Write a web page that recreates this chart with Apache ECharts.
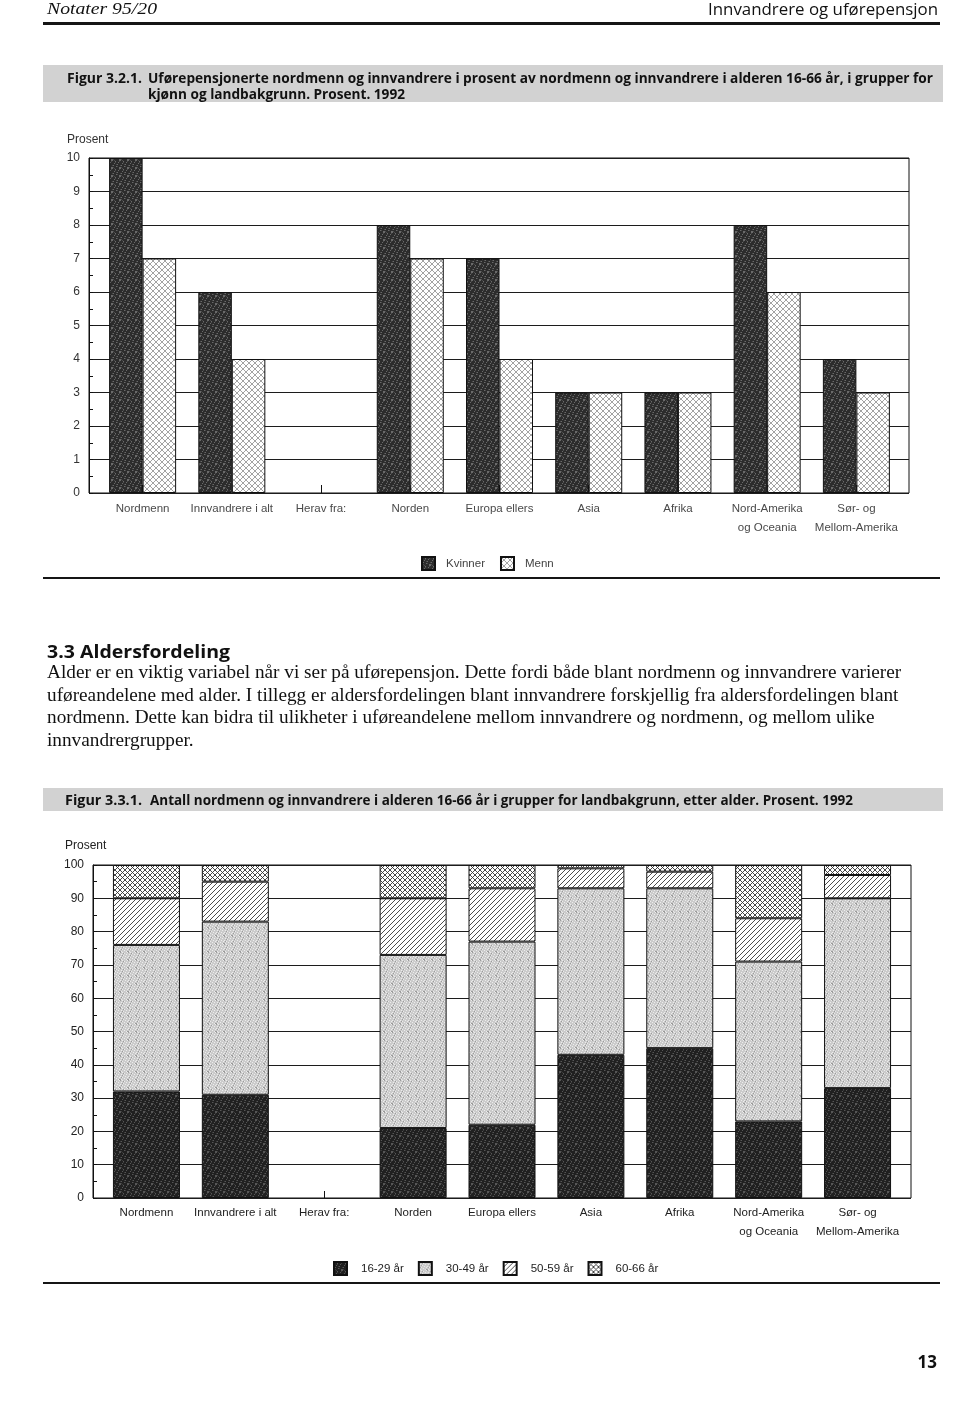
<!DOCTYPE html>
<html><head><meta charset="utf-8">
<script src="https://cdn.jsdelivr.net/npm/echarts/dist/echarts.min.js"></script>
<style>
html,body{margin:0;padding:0;background:#fff;}
body{width:960px;height:1423px;position:relative;overflow:hidden;}
#chart{position:absolute;left:0;top:0;width:960px;height:1423px;}
.t{position:absolute;white-space:nowrap;z-index:2;color:#111;}
.sans{font-family:"Open Sans","Noto Sans",sans-serif;}
.serif{font-family:"Liberation Serif","DejaVu Serif",serif;}
.band{position:absolute;left:43px;width:900px;background:#d2d2d2;z-index:1;}
.rule{position:absolute;left:43px;width:897px;background:#151515;z-index:1;}
</style>
</head><body>
<div id="chart"></div>

<div class="t serif" id="hl" style="left:47px;top:0px;font-size:17px;line-height:18px;font-style:italic;">Notater 95/20</div>
<div class="t sans" id="hr" style="top:1px;font-size:16px;line-height:16px;">Innvandrere og uførepensjon</div>
<div class="rule" style="top:22px;height:3px;"></div>

<div class="band" style="top:65px;height:37px;"></div>
<div class="t sans" id="f1a" style="left:67px;top:70px;font-size:15px;line-height:15px;font-weight:700;">Figur 3.2.1.</div>
<div class="t sans" id="f1b" style="left:148px;top:70px;font-size:15px;line-height:15px;font-weight:700;">Uførepensjonerte nordmenn og innvandrere i prosent av nordmenn og innvandrere i alderen 16-66 år, i grupper for</div>
<div class="t sans" id="f1c" style="left:148px;top:86px;font-size:15px;line-height:15px;font-weight:700;">kjønn og landbakgrunn. Prosent. 1992</div>

<div class="rule" style="top:577px;height:2px;"></div>

<div class="t sans" id="h33" style="left:47px;top:643px;font-size:17px;line-height:17px;font-weight:700;">3.3 Aldersfordeling</div>
<div class="t serif" id="p1" style="left:47px;top:661px;font-size:17.5px;line-height:22.5px;">Alder er en viktig variabel når vi ser på uførepensjon. Dette fordi både blant nordmenn og innvandrere varierer</div>
<div class="t serif" id="p2" style="left:47px;top:683.5px;font-size:17.5px;line-height:22.5px;">uføreandelene med alder. I tillegg er aldersfordelingen blant innvandrere forskjellig fra aldersfordelingen blant</div>
<div class="t serif" id="p3" style="left:47px;top:706px;font-size:17.5px;line-height:22.5px;">nordmenn. Dette kan bidra til ulikheter i uføreandelene mellom innvandrere og nordmenn, og mellom ulike</div>
<div class="t serif" id="p4" style="left:47px;top:728.5px;font-size:17.5px;line-height:22.5px;">innvandrergrupper.</div>

<div class="band" style="top:788px;height:23px;"></div>
<div class="t sans" id="f2a" style="left:65px;top:792px;font-size:15px;line-height:15px;font-weight:700;">Figur 3.3.1.</div>
<div class="t sans" id="f2b" style="left:150px;top:792px;font-size:15px;line-height:15px;font-weight:700;">Antall nordmenn og innvandrere i alderen 16-66 år i grupper for landbakgrunn, etter alder. Prosent. 1992</div>

<div class="rule" style="top:1282px;height:2px;"></div>

<div class="t sans" id="pn" style="top:1353px;font-size:17px;line-height:17px;font-weight:700;">13</div>

<script>
// ---------- DATA ----------
const categories = ['Nordmenn', 'Innvandrere i alt', 'Herav fra:', 'Norden', 'Europa ellers', 'Asia', 'Afrika', 'Nord-Amerika\nog Oceania', 'Sør- og\nMellom-Amerika'];
const seriesNames1 = ['Kvinner', 'Menn'];
const kvinner = [10, 6, null, 8, 7, 3, 3, 8, 4];
const menn = [7, 4, null, 7, 4, 3, 3, 6, 3];
const yTicks1 = [0, 1, 2, 3, 4, 5, 6, 7, 8, 9, 10];

const seriesNames2 = ['16-29 år', '30-49 år', '50-59 år', '60-66 år'];
const age1629 = [32, 31, null, 21, 22, 43, 45, 23, 33];
const age3049 = [44, 52, null, 52, 55, 50, 48, 48, 57];
const age5059 = [14, 12, null, 17, 16, 6, 5, 13, 7];
const age6066 = [10, 5, null, 10, 7, 1, 2, 16, 3];
const yTicks2 = [0, 10, 20, 30, 40, 50, 60, 70, 80, 90, 100];
const yName = 'Prosent';

// ---------- text fitting ----------
function fitW(id, w, left, right) {
  const el = document.getElementById(id);
  const nat = el.getBoundingClientRect().width;
  el.style.transformOrigin = '0 0';
  el.style.transform = 'scaleX(' + (w / nat) + ')';
  if (right != null) el.style.left = (right - w) + 'px';
  else if (left != null) el.style.left = left + 'px';
}
fitW('hl', 110, 47);
fitW('hr', 230, null, 938);
fitW('f1a', 75, 67);
fitW('f1b', 785, 148);
fitW('f1c', 257, 148);
fitW('f2a', 77, 65);
fitW('f2b', 703, 150);
fitW('h33', 183, 47);
(function () {
  const el = document.getElementById('p1');
  const nat = el.getBoundingClientRect().width;
  const fs = 17.5 * 855 / nat;
  ['p1', 'p2', 'p3', 'p4'].forEach(id => document.getElementById(id).style.fontSize = fs + 'px');
})();
(function () {
  const el = document.getElementById('pn');
  const w = el.getBoundingClientRect().width;
  el.style.left = (937 - w) + 'px';
})();

// ---------- patterns (style only) ----------
function tile(size, bg, fn) {
  const c = document.createElement('canvas');
  c.width = c.height = size;
  const g = c.getContext('2d');
  g.fillStyle = bg; g.fillRect(0, 0, size, size);
  if (fn) fn(g, size);
  return { image: c, repeat: 'repeat' };
}
function dots(g, s, color, test) {
  g.fillStyle = color;
  for (let x = 0; x < s; x++) for (let y = 0; y < s; y++) if (test(x, y)) g.fillRect(x, y, 1, 1);
}
function diag(g, s, color, lw, dir) {
  g.strokeStyle = color; g.lineWidth = lw; g.beginPath();
  for (let k = -1; k <= 1; k++) {
    if (dir > 0) { g.moveTo(k * s, s); g.lineTo(k * s + s, 0); }
    else { g.moveTo(k * s, 0); g.lineTo(k * s + s, s); }
  }
  g.stroke();
}
const patKvinner = tile(8, '#2c2c2c', (g, s) => {
  dots(g, s, '#6a6a6a', (x, y) => (x * 3 + y * 5) % 7 === 0);
  dots(g, s, '#4a4a4a', (x, y) => (x * 5 + y * 2) % 9 === 1);
});
const patMenn = tile(6, '#ffffff', (g, s) => { diag(g, s, '#8c8c8c', 0.8, 1); diag(g, s, '#8c8c8c', 0.8, -1); });
const pat1629 = tile(8, '#202020', (g, s) => {
  dots(g, s, '#565656', (x, y) => (x * 3 + y * 5) % 7 === 0);
  dots(g, s, '#3a3a3a', (x, y) => (x * 5 + y * 2) % 9 === 1);
});
const pat3049 = tile(8, '#cbcbcb', (g, s) => {
  dots(g, s, '#9c9c9c', (x, y) => (x * 3 + y * 5) % 7 === 0);
  dots(g, s, '#ececec', (x, y) => (x + y * 3) % 5 === 2);
});
const pat5059 = tile(5, '#ffffff', (g, s) => diag(g, s, '#3a3a3a', 0.9, 1));
const pat6066 = tile(5, '#ffffff', (g, s) => { diag(g, s, '#333', 0.9, 1); diag(g, s, '#333', 0.9, -1); });

// ---------- chart ----------
const FONT = "'Liberation Sans Narrow','Arial Narrow','Liberation Sans',sans-serif";
const chart = echarts.init(document.getElementById('chart'), null, { renderer: 'canvas' });

function frameY(gridIndex, ticks, labelColor) {
  return {
    type: 'value', gridIndex: gridIndex,
    min: ticks[0], max: ticks[ticks.length - 1], interval: ticks[1] - ticks[0],
    axisLine: { show: true, lineStyle: { color: '#111', width: 1 } },
    axisTick: { show: true, inside: true, length: 4, lineStyle: { color: '#111' } },
    minorTick: { show: true, splitNumber: 2, length: 4, lineStyle: { color: '#111' } },
    splitLine: { show: true, lineStyle: { color: '#1c1c1c', width: 1 } },
    axisLabel: { fontSize: 12, color: labelColor, fontFamily: FONT, margin: 9 }
  };
}
function barX(gridIndex, tickLen, margin, color) {
  return {
    type: 'category', gridIndex: gridIndex, data: categories,
    axisLine: { show: false },
    axisTick: { show: true, inside: true, alignWithLabel: true, length: tickLen, lineStyle: { color: '#111' } },
    axisLabel: { interval: 0, fontSize: 11.5, color: color, fontFamily: FONT, margin: margin, lineHeight: 19 },
    splitLine: { show: false }
  };
}
const legendText = (c, pad) => ({ fontSize: 11.5, color: c, fontFamily: FONT, padding: [0, 0, 0, pad] });

const option = {
  animation: false,
  backgroundColor: 'transparent',
  grid: [
    { left: 89, top: 158, width: 820, height: 335, show: true, borderColor: '#111', borderWidth: 1, containLabel: false, outerBoundsMode: 'none' },
    { left: 98, top: 158, width: 803, height: 335, containLabel: false, outerBoundsMode: 'none' },
    { left: 93, top: 865, width: 818, height: 333, show: true, borderColor: '#111', borderWidth: 1, containLabel: false, outerBoundsMode: 'none' },
    { left: 102, top: 865, width: 800, height: 333, containLabel: false, outerBoundsMode: 'none' }
  ],
  xAxis: [
    { type: 'value', gridIndex: 0, show: false, min: 0, max: 1 },
    barX(1, 8, 6, '#4a4a4a'),
    { type: 'value', gridIndex: 2, show: false, min: 0, max: 1 },
    barX(3, 7, 5, '#222')
  ],
  yAxis: [
    frameY(0, yTicks1, '#333'),
    { type: 'value', gridIndex: 1, show: false, min: yTicks1[0], max: yTicks1[yTicks1.length - 1], splitLine: { show: false } },
    frameY(2, yTicks2, '#222'),
    { type: 'value', gridIndex: 3, show: false, min: yTicks2[0], max: yTicks2[yTicks2.length - 1], splitLine: { show: false } }
  ],
  legend: [
    { data: seriesNames1, left: 416, top: 551, orient: 'horizontal', icon: 'rect', itemWidth: 13, itemHeight: 13, itemGap: 15, textStyle: legendText('#444', 6) },
    { data: seriesNames2, left: 328, top: 1256, orient: 'horizontal', icon: 'rect', itemWidth: 13, itemHeight: 13, itemGap: 14, textStyle: legendText('#222', 9) }
  ],
  graphic: [
    { type: 'text', left: 67, top: 134, style: { text: yName, font: '12px ' + FONT, fill: '#333' } },
    { type: 'text', left: 65, top: 840, style: { text: yName, font: '12px ' + FONT, fill: '#222' } }
  ],
  series: [
    { name: seriesNames1[0], type: 'bar', xAxisIndex: 1, yAxisIndex: 1, data: kvinner, barWidth: 33.5, barGap: '0%', itemStyle: { color: patKvinner, borderColor: '#111', borderWidth: 1 } },
    { name: seriesNames1[1], type: 'bar', xAxisIndex: 1, yAxisIndex: 1, data: menn, barWidth: 33.5, barGap: '0%', itemStyle: { color: patMenn, borderColor: '#111', borderWidth: 1 } },
    { name: seriesNames2[0], type: 'bar', stack: 'age', xAxisIndex: 3, yAxisIndex: 3, data: age1629, barWidth: 67, itemStyle: { color: pat1629, borderColor: '#111', borderWidth: 1 } },
    { name: seriesNames2[1], type: 'bar', stack: 'age', xAxisIndex: 3, yAxisIndex: 3, data: age3049, barWidth: 67, itemStyle: { color: pat3049, borderColor: '#111', borderWidth: 1 } },
    { name: seriesNames2[2], type: 'bar', stack: 'age', xAxisIndex: 3, yAxisIndex: 3, data: age5059, barWidth: 67, itemStyle: { color: pat5059, borderColor: '#111', borderWidth: 1 } },
    { name: seriesNames2[3], type: 'bar', stack: 'age', xAxisIndex: 3, yAxisIndex: 3, data: age6066, barWidth: 67, itemStyle: { color: pat6066, borderColor: '#111', borderWidth: 1 } }
  ]
};
chart.setOption(option);
</script>
</body></html>
